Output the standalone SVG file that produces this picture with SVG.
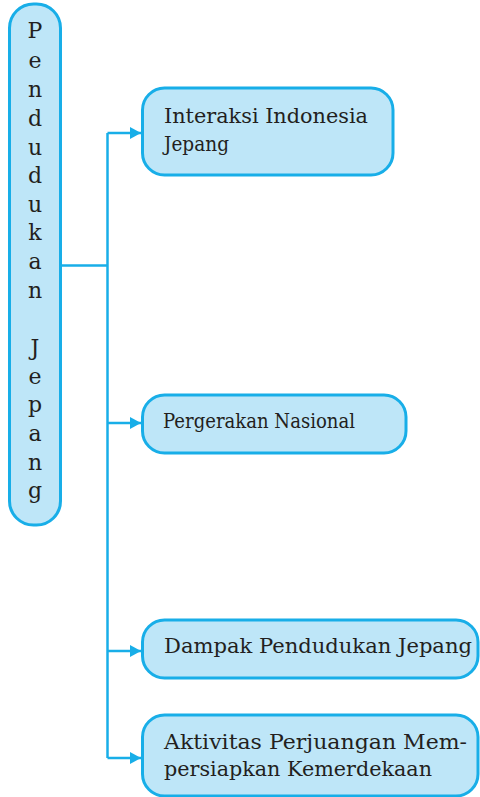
<svg xmlns="http://www.w3.org/2000/svg" width="480" height="797" viewBox="0 0 480 797">
<defs>
<style>
.box{fill:#bee6f8;stroke:#18aee8;stroke-width:3}
.lbl{font-family:"DejaVu Serif","Liberation Serif",serif;font-size:21px;fill:#231f20}
.cond{font-family:"DejaVu Serif","Liberation Serif",serif;font-size:21px;fill:#231f20}
.v{font-family:"DejaVu Serif","Liberation Serif",serif;font-size:22px;fill:#231f20;text-anchor:middle}
.ln{fill:none;stroke:#18aee8;stroke-width:2.5}
</style>
<marker id="ah" viewBox="0 0 10 10" refX="10" refY="5" markerWidth="11" markerHeight="12" markerUnits="userSpaceOnUse" orient="auto" preserveAspectRatio="none">
<path d="M0,0 L10,5 L0,10 Z" fill="#18aee8"/>
</marker>
</defs>
<g id="connectors">
<path class="ln" d="M61,265.5 H107.5"/>
<path class="ln" d="M107.5,133 V758"/>
<path class="ln" d="M107.5,133 H141" marker-end="url(#ah)"/>
<path class="ln" d="M107.5,423 H141" marker-end="url(#ah)"/>
<path class="ln" d="M107.5,651 H141" marker-end="url(#ah)"/>
<path class="ln" d="M107.5,758 H141" marker-end="url(#ah)"/>
</g>
<g id="node-root">
<rect class="box" x="9.5" y="4" width="51" height="521" rx="24" ry="24"/>
<text class="v" x="35" y="38">P</text>
<text class="v" x="35" y="68">e</text>
<text class="v" x="35" y="97">n</text>
<text class="v" x="35" y="126">d</text>
<text class="v" x="35" y="155">u</text>
<text class="v" x="35" y="183">d</text>
<text class="v" x="35" y="212">u</text>
<text class="v" x="35" y="240">k</text>
<text class="v" x="35" y="269">a</text>
<text class="v" x="35" y="298">n</text>
<text class="v" x="35" y="355">J</text>
<text class="v" x="35" y="384">e</text>
<text class="v" x="35" y="412">p</text>
<text class="v" x="35" y="441">a</text>
<text class="v" x="35" y="470">n</text>
<text class="v" x="35" y="498">g</text>
</g>
<g id="node-interaksi">
<rect class="box" x="142.5" y="88" width="250.5" height="87" rx="22" ry="22"/>
<text class="lbl" x="164" y="123" textLength="204" lengthAdjust="spacingAndGlyphs">Interaksi Indonesia</text>
<text class="cond" x="164" y="151" textLength="65" lengthAdjust="spacingAndGlyphs">Jepang</text>
</g>
<g id="node-pergerakan">
<rect class="box" x="142.5" y="395" width="263.5" height="58" rx="22" ry="22"/>
<text class="cond" x="163" y="428" textLength="192" lengthAdjust="spacingAndGlyphs">Pergerakan Nasional</text>
</g>
<g id="node-dampak">
<rect class="box" x="142.5" y="620" width="335.5" height="58" rx="22" ry="22"/>
<text class="lbl" x="164" y="653" textLength="308" lengthAdjust="spacingAndGlyphs">Dampak Pendudukan Jepang</text>
</g>
<g id="node-aktivitas">
<rect class="box" x="142.5" y="715" width="335.5" height="81" rx="22" ry="22"/>
<text class="lbl" x="164" y="749" textLength="303" lengthAdjust="spacingAndGlyphs">Aktivitas Perjuangan Mem-</text>
<text class="lbl" x="164" y="776" textLength="268" lengthAdjust="spacingAndGlyphs">persiapkan Kemerdekaan</text>
</g>
</svg>
